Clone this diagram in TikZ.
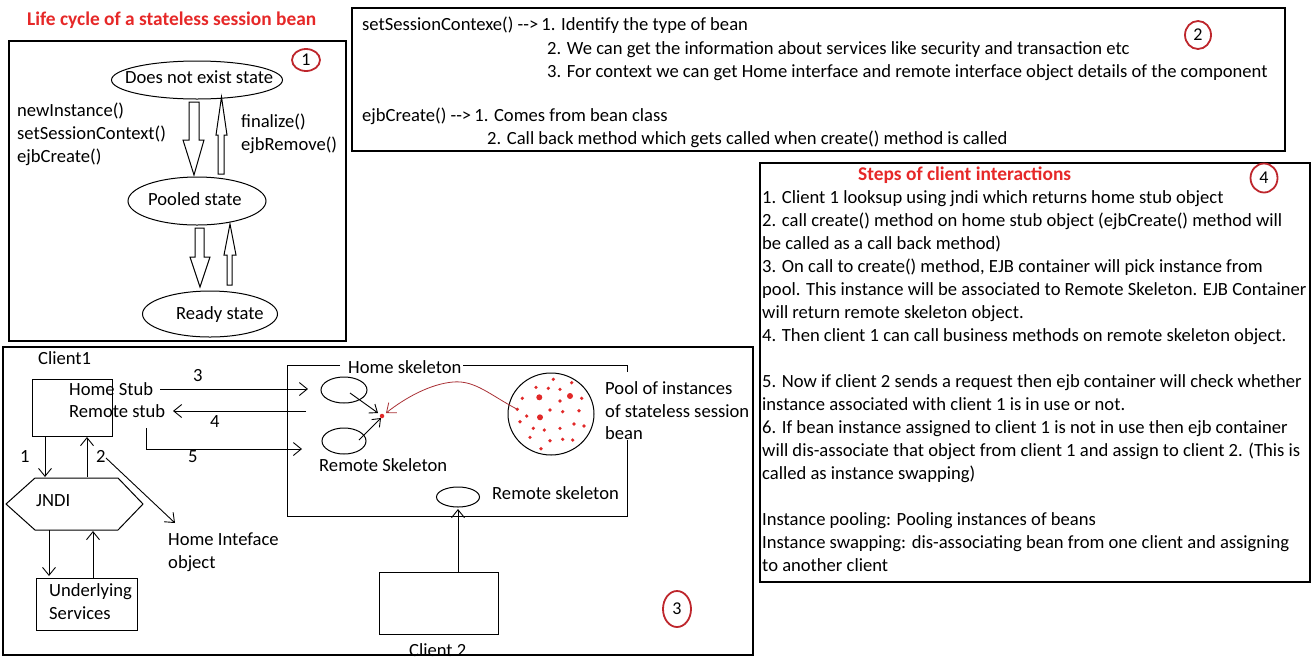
\documentclass[tikz,border=0pt]{standalone}
\usepackage{fontspec}
\setmainfont{Carlito}
\usetikzlibrary{arrows.meta,shapes.geometric}
\definecolor{titlered}{RGB}{230,40,40}
\definecolor{circred}{RGB}{190,38,44}
\definecolor{curvered}{RGB}{170,50,55}
\definecolor{dotred}{RGB}{225,40,40}
\begin{document}
\begin{tikzpicture}[x=1pt,y=-1pt,
  txt/.style={font=\fontsize{18.6}{23}\selectfont, inner sep=0pt, anchor=base west},
  ttl/.style={font=\fontsize{19.4}{23}\selectfont\bfseries, text=titlered, inner sep=0pt, anchor=base west},
  panel/.style={draw, line width=1.2pt},
  numc/.style={draw=circred, line width=1.8pt, ellipse, inner sep=0pt, font=\fontsize{18}{23}\selectfont},
  stel/.style={draw, ellipse, line width=1pt, inner sep=0pt},
  boxn/.style={draw, rectangle, line width=1pt, inner sep=0pt},
  conn/.style={line width=0.9pt, -{Straight Barb[length=8pt,width=13pt]}},
  hollow/.style={draw, line width=1pt, fill=white}]
\useasboundingbox (0,0) rectangle (1313,665);
\fill[white] (0,0) rectangle (1313,665);

% ---------------- Panel 1 ----------------
\node[ttl] (t1) at (27,25) {Life cycle of a stateless session bean};
\draw[panel] (9,41) rectangle (346,341);
\node[numc, minimum width=28pt, minimum height=22pt] (c1) at (306,60) {1};
\node[stel, minimum width=171pt, minimum height=38pt] (dne) at (197,80) {};
\node[txt] (dnet) at (125,83) {Does not exist state};
\node[stel, minimum width=138pt, minimum height=48pt] (pool1) at (197,201) {};
\node[txt] (poolt) at (148,205) {Pooled state};
\node[stel, minimum width=135pt, minimum height=46pt] (ready) at (210,314) {};
\node[txt] (readyt) at (176,319) {Ready state};
\draw[hollow] (189,102) -- (199,102) -- (199,140) -- (204,140) -- (194,175) -- (183,140) -- (189,140) -- cycle;
\draw[hollow] (218,174) -- (224,174) -- (224,135) -- (227,135) -- (221.5,97) -- (216,135) -- (218,135) -- cycle;
\draw[hollow] (195,228) -- (204,228) -- (204,257) -- (210,257) -- (200,287) -- (190,257) -- (195,257) -- cycle;
\draw[hollow] (227,285) -- (232,285) -- (232,255) -- (236,255) -- (230,224) -- (224,255) -- (227,255) -- cycle;
\node[txt] (l1a) at (17,116) {newInstance()};
\node[txt] (l1b) at (17,139) {setSessionContext()};
\node[txt] (l1c) at (17,162) {ejbCreate()};
\node[txt] (l1d) at (241,127) {finalize()};
\node[txt] (l1e) at (241,150) {ejbRemove()};

% ---------------- Panel 2 ----------------
\draw[panel] (352,8) rectangle (1285,151);
\node[numc, minimum width=26pt, minimum height=28pt] (c2) at (1198,35) {2};
\node[txt] (p2a) at (362,30) {setSessionContexe() {-}{-}>\,1. Identify the type of bean};
\node[txt] (p2b) at (547,54) {2. We can get the information about services like security and transaction etc};
\node[txt] (p2c) at (547,77) {3. For context we can get Home interface and remote interface object details of the component};
\node[txt] (p2d) at (362,121) {ejbCreate() {-}{-}>\,1. Comes from bean class};
\node[txt] (p2e) at (487,144) {2. Call back method which gets called when create() method is called};

% ---------------- Panel 4 ----------------
\draw[panel] (760,163) rectangle (1310,582);
\node[numc, minimum width=27pt, minimum height=29pt] (c4) at (1264,178) {4};
\node[ttl] (t4) at (858,180) {Steps of client interactions};
\node[txt] (q1) at (762,203) {1. Client 1 looksup using jndi which returns home stub object};
\node[txt] (q2) at (762,226) {2. call create() method on home stub object (ejbCreate() method will};
\node[txt] (q3) at (762,249) {be called as a call back method)};
\node[txt] (q4) at (762,272) {3. On call to create() method, EJB container will pick instance from};
\node[txt] (q5) at (762,295) {pool. This instance will be associated to Remote Skeleton. EJB Container};
\node[txt] (q6) at (762,318) {will return remote skeleton object.};
\node[txt] (q7) at (762,341) {4. Then client 1 can call business methods on remote skeleton object.};
\node[txt] (q8) at (762,387) {5. Now if client 2 sends a request then ejb container will check whether};
\node[txt] (q9) at (762,410) {instance associated with client 1 is in use or not.};
\node[txt] (q10) at (762,433) {6. If bean instance assigned to client 1 is not in use then ejb container};
\node[txt] (q11) at (762,456) {will dis-associate that object from client 1 and assign to client 2. (This is};
\node[txt] (q12) at (762,479) {called as instance swapping)};
\node[txt] (q13) at (762,525) {Instance pooling: Pooling instances of beans};
\node[txt] (q14) at (762,548) {Instance swapping: dis-associating bean from one client and assigning};
\node[txt] (q15) at (762,571) {to another client};

% ---------------- Panel 3 ----------------
\node[txt] (client1) at (38,364) {Client1};
\node[boxn, minimum width=80pt, minimum height=57pt] (cb1) at (72,407.5) {};
\node[txt] (hs) at (69,395) {Home Stub};
\node[txt] (rs) at (69,417) {Remote stub};
\node[boxn, minimum width=101pt, minimum height=52pt] (us) at (86.5,604) {};
\node[txt] (ust1) at (49,596) {Underlying};
\node[txt] (ust2) at (49,619) {Services};
\draw[line width=1pt] (35,478) -- (118,478) -- (143,504) -- (118,530) -- (35,530) -- (6,504) -- cycle;
\node[txt] (jndi) at (36,506) {JNDI};
\node[txt] (hio1) at (168,545) {Home Inteface};
\node[txt] (hio2) at (168,568) {object};
\coordinate (a1s) at (45,436);   \coordinate (a1e) at (45,477);
\coordinate (a2s) at (87,477);   \coordinate (a2e) at (87,437);
\coordinate (a6s) at (49,530);   \coordinate (a6e) at (49,576);
\coordinate (a7s) at (93,578);   \coordinate (a7e) at (93,531);
\coordinate (a8s) at (106,458);  \coordinate (a8e) at (175,523);
\draw[conn] (a1s) -- (a1e);
\draw[conn] (a2s) -- (a2e);
\draw[conn] (a6s) -- (a6e);
\draw[conn] (a7s) -- (a7e);
\draw[conn] (a8s) -- (a8e);
\node[txt] (n1) at (20,462) {1};
\node[txt] (n2) at (96,462) {2};

% container
\draw[line width=1pt] (340,365) -- (287,365) -- (287,516) -- (627,516) -- (627,440);
\draw[line width=1pt] (463,365) -- (627,365) -- (627,372);
\node[txt] (hsk) at (348,373) {Home skeleton};
\node[stel, minimum width=46pt, minimum height=26pt] (hse) at (344,390) {};
\node[stel, minimum width=44pt, minimum height=26pt] (rse) at (344,441) {};
\node[txt] (rsk) at (319,471) {Remote Skeleton};
\node[stel, minimum width=43pt, minimum height=20pt] (rse2) at (458,497) {};
\node[txt] (rsk2) at (492,499) {Remote skeleton};
\node[stel, minimum width=86pt, minimum height=82pt] (pool) at (551,414) {};
\node[txt] (pt1) at (605,394) {Pool of instances};
\node[txt] (pt2) at (605,417) {of stateless session};
\node[txt] (pt3) at (605,439) {bean};
\foreach \x/\y in {553.3/379.3, 571.7/382.7, 536/387.3, 548.3/388.3, 560/389.3, 581.7/398.3,
  522.3/398.3, 560/401, 517.3/409.3, 550/410, 562.7/411.7, 579/410.7, 526.7/416, 520/421.7,
  574/424, 584/426, 533.3/428.3, 544.3/430, 560/428.3, 530/437.3, 550/440.7, 562.7/439.3,
  572.7/440, 541/448.7}
  \fill[dotred] (\x,\y) circle (1.8);
\foreach \x/\y in {539.3/397.3, 570/396, 540/417.3}
  \fill[dotred] (\x,\y) circle (3);
\node[circle, fill=dotred, inner sep=0pt, minimum size=4.5pt] (inst) at (382,416) {};
\coordinate (hsa) at (350,393);  \coordinate (hsb) at (378,413);
\coordinate (rsa) at (359,440);  \coordinate (rsb) at (381,418);
\draw[line width=0.9pt, -{Straight Barb[length=7pt,width=11pt]}] (hsa) -- (hsb);
\draw[line width=0.9pt, -{Straight Barb[length=7pt,width=11pt]}] (rsa) -- (rsb);
\coordinate (cstart) at (517.3,409.3);
\coordinate (cpeak) at (453,382);
\coordinate (cend) at (386,413);
\draw[curvered, line width=0.8pt, -{Straight Barb[length=8pt,width=13pt]}]
  (cstart) .. controls (490,395) and (475,380) .. (cpeak) .. controls (430,384) and (405,398) .. (cend);

% client 1 <-> container arrows
\coordinate (a3s) at (160,389);  \coordinate (a3e) at (308,389);
\coordinate (a4s) at (306,411);  \coordinate (a4e) at (173,411);
\coordinate (a5s) at (146,428);  \coordinate (a5m) at (146,449);  \coordinate (a5e) at (302,449);
\draw[conn] (a3s) -- (a3e);
\draw[conn] (a4s) -- (a4e);
\draw[conn] (a5s) -- (a5m) -- (a5e);
\node[txt] (n3) at (193,381) {3};
\node[txt] (n4) at (210,427) {4};
\node[txt] (n5) at (188,462) {5};

% client 2
\node[boxn, minimum width=119pt, minimum height=62pt] (cb2) at (438.5,603) {};
\node[txt] (client2) at (409,656) {Client 2};
\coordinate (c2s) at (458,572); \coordinate (c2e) at (458,509);
\draw[conn] (c2s) -- (c2e);
\node[numc, minimum width=28pt, minimum height=36pt] (c3) at (677,609) {3};
\draw[panel] (3,347) rectangle (753,655);
\end{tikzpicture}
\end{document}
